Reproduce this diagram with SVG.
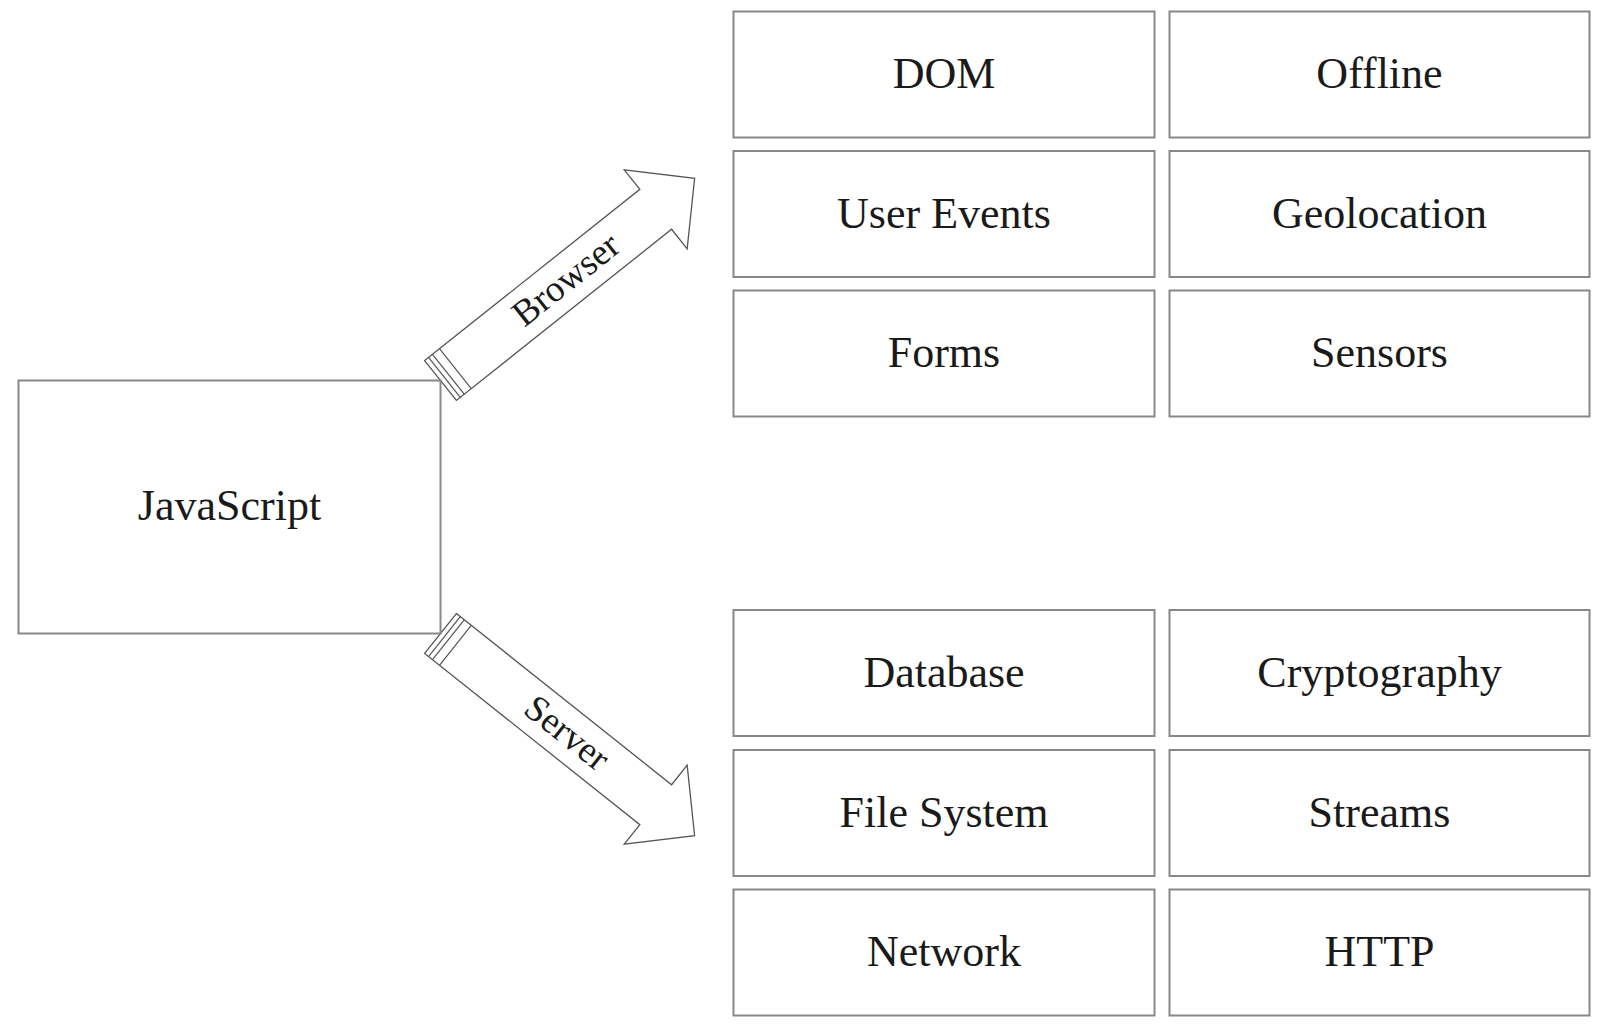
<svg xmlns="http://www.w3.org/2000/svg" width="1604" height="1028" viewBox="0 0 1604 1028">
<defs>
<style>
.box{fill:#ffffff;stroke:#888888;stroke-width:2}
.lbl{font-family:"Liberation Serif","Times New Roman",serif;font-size:44px;fill:#1a1a1a;text-anchor:middle}
.arrow{fill:#ffffff;stroke:#555555;stroke-width:1.3;stroke-linejoin:miter}
.band{fill:none;stroke:#555555;stroke-width:1.2}
.albl{font-family:"Liberation Serif","Times New Roman",serif;font-size:37px;fill:#1a1a1a;text-anchor:middle}
</style>
<g id="arrowShape">
<polygon class="arrow" points="0,-25.5 275,-25.5 275,-50.5 324.7,0 275,50.5 275,25.5 0,25.5"/>
<line class="band" x1="5" y1="-25.5" x2="5" y2="25.5"/>
<line class="band" x1="10" y1="-25.5" x2="10" y2="25.5"/>
<line class="band" x1="19" y1="-25.5" x2="19" y2="25.5"/>
</g>
</defs>
<rect width="1604" height="1028" fill="#ffffff"/>
<g id="connectors">
<g id="browser-arrow" transform="translate(440.5,380.5) rotate(-38.5)">
<use href="#arrowShape"/>
<text class="albl" x="161" y="11">Browser</text>
</g>
<g id="server-arrow" transform="translate(440.5,633.5) rotate(38.5)">
<use href="#arrowShape"/>
<text class="albl" x="161" y="11">Server</text>
</g>
</g>
<g id="javascript"><rect class="box" x="18.5" y="380.5" width="422" height="253"/><text class="lbl" x="229.5" y="520">JavaScript</text></g>
<g id="dom"><rect class="box" x="733.5" y="11.5" width="421" height="126"/><text class="lbl" x="944" y="88">DOM</text></g>
<g id="offline"><rect class="box" x="1169.5" y="11.5" width="420" height="126"/><text class="lbl" x="1379.5" y="88">Offline</text></g>
<g id="user-events"><rect class="box" x="733.5" y="151" width="421" height="126"/><text class="lbl" x="944" y="228">User Events</text></g>
<g id="geolocation"><rect class="box" x="1169.5" y="151" width="420" height="126"/><text class="lbl" x="1379.5" y="228">Geolocation</text></g>
<g id="forms"><rect class="box" x="733.5" y="290.5" width="421" height="126"/><text class="lbl" x="944" y="367">Forms</text></g>
<g id="sensors"><rect class="box" x="1169.5" y="290.5" width="420" height="126"/><text class="lbl" x="1379.5" y="367">Sensors</text></g>
<g id="database"><rect class="box" x="733.5" y="610" width="421" height="126"/><text class="lbl" x="944" y="687">Database</text></g>
<g id="cryptography"><rect class="box" x="1169.5" y="610" width="420" height="126"/><text class="lbl" x="1379.5" y="687">Cryptography</text></g>
<g id="file-system"><rect class="box" x="733.5" y="750" width="421" height="126"/><text class="lbl" x="944" y="827">File System</text></g>
<g id="streams"><rect class="box" x="1169.5" y="750" width="420" height="126"/><text class="lbl" x="1379.5" y="827">Streams</text></g>
<g id="network"><rect class="box" x="733.5" y="889.5" width="421" height="126"/><text class="lbl" x="944" y="966">Network</text></g>
<g id="http"><rect class="box" x="1169.5" y="889.5" width="420" height="126"/><text class="lbl" x="1379.5" y="966">HTTP</text></g>
</svg>
